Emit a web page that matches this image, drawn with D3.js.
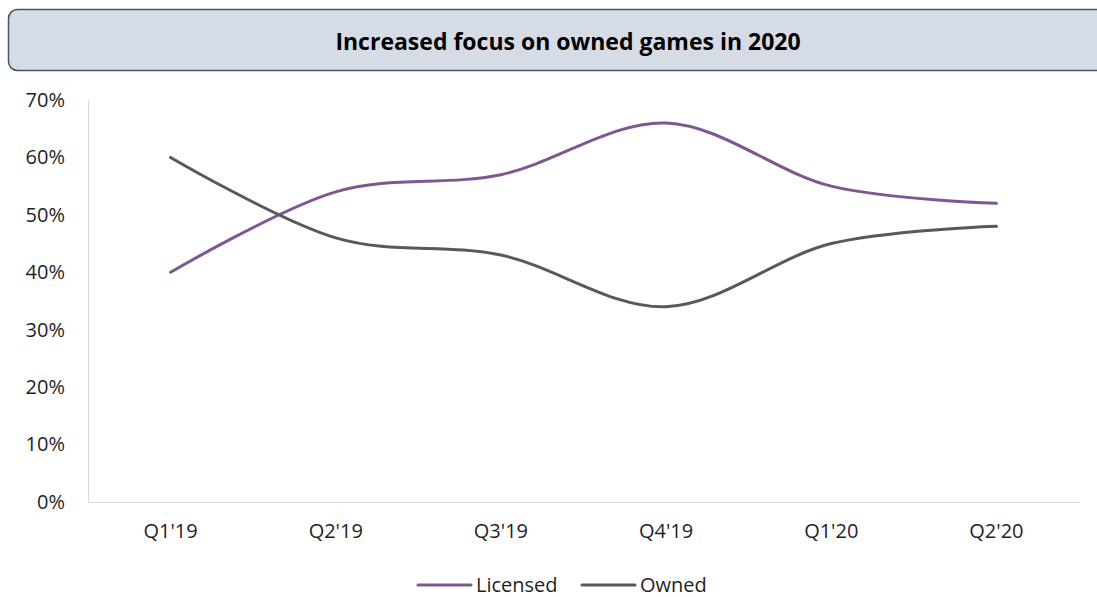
<html>
  <head>
    <meta charset="utf-8">
    <title>owned vs licensed</title>
    <style>
      body { margin: 0; background: #fff; }
      text { font-family: "Open Sans", "Noto Sans", sans-serif; fill: #1f1f1f; }
      .axis path, .axis line { stroke: #d9d9d9; }
    </style>
  </head>
  <body>
    <script src="https://cdn.jsdelivr.net/npm/d3@7/dist/d3.min.js"></script>
    <script>
    var quarters = ["Q1'19", "Q2'19", "Q3'19", "Q4'19", "Q1'20", "Q2'20"];
    var licensed = [0.40, 0.54, 0.57, 0.66, 0.55, 0.52];
    var owned = [0.60, 0.46, 0.43, 0.34, 0.45, 0.48];
    var yTicks = [0, 0.1, 0.2, 0.3, 0.4, 0.5, 0.6, 0.7];
    var seriesNames = ["Licensed", "Owned"];
    var seriesColors = ["#7f5790", "#595959"];

    var width = 1097, height = 597;
    var svg = d3.select('body').append('svg')
      .attr('width', width).attr('height', height);

    // title box
    svg.append('rect')
      .attr('x', 8.5).attr('y', 9.5)
      .attr('width', 1100).attr('height', 61)
      .attr('rx', 9)
      .attr('fill', '#d6dce5')
      .attr('stroke', '#44546a')
      .attr('stroke-width', 1.5);
    svg.append('text')
      .attr('x', 568).attr('y', 50)
      .attr('text-anchor', 'middle')
      .attr('font-size', 23).attr('font-weight', 'bold')
      .style('fill', '#000')
      .text('Increased focus on owned games in 2020');

    var x = d3.scaleBand().domain(quarters).range([88, 1079]);
    var y = d3.scaleLinear().domain([0, 0.7]).range([502, 100]);

    var yAxis = svg.append('g').attr('class', 'axis')
      .attr('transform', 'translate(88,0)')
      .call(d3.axisLeft(y).tickValues(yTicks).tickFormat(d3.format('.0%')).tickSize(0).tickPadding(23));
    yAxis.selectAll('text').attr('font-size', 20);

    var xAxis = svg.append('g').attr('class', 'axis')
      .attr('transform', 'translate(0,502)')
      .call(d3.axisBottom(x).tickSize(0).tickPadding(22));
    xAxis.selectAll('text').attr('font-size', 20);

    var line = d3.line()
      .x(function(d, i) { return x(quarters[i]) + x.bandwidth() / 2; })
      .y(function(d) { return y(d); })
      .curve(d3.curveCatmullRom.alpha(0));

    [licensed, owned].forEach(function(s, i) {
      svg.append('path')
        .datum(s)
        .attr('d', line)
        .attr('fill', 'none')
        .attr('stroke', seriesColors[i])
        .attr('stroke-width', 3)
        .attr('stroke-linecap', 'round');
    });

    // legend
    var legendX = [418, 582];
    seriesNames.forEach(function(name, i) {
      var g = svg.append('g').attr('transform', 'translate(' + legendX[i] + ',585)');
      g.append('line').attr('x1', 0).attr('x2', 53)
        .attr('stroke', seriesColors[i]).attr('stroke-width', 3).attr('stroke-linecap', 'round');
      g.append('text').attr('x', 58).attr('y', 7)
        .attr('font-size', 20).text(name);
    });
    </script>
  </body>
</html>
